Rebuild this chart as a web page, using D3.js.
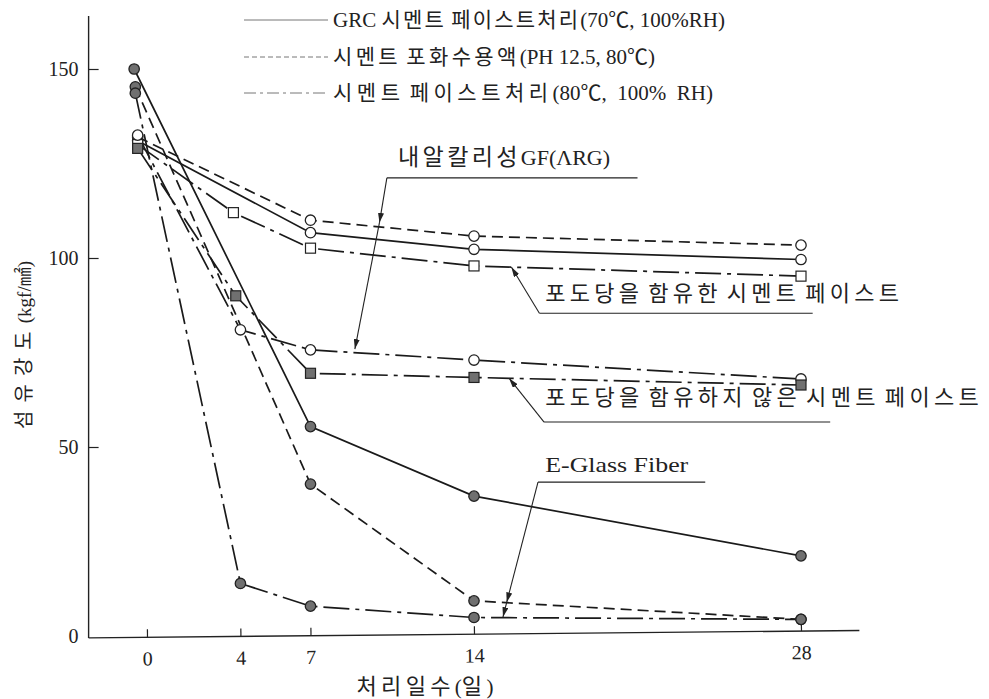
<!DOCTYPE html>
<html>
<head>
<meta charset="utf-8">
<script src="https://cdn.jsdelivr.net/npm/d3@7"></script>
<style>
    body { margin: 0; background: #fff; }
    text { font-family: 'Liberation Serif', 'Noto Sans CJK KR', serif; fill: #222; }
</style>
</head>
<body>
<svg id="chart" width="989" height="699"></svg>
<script>
// ---- data (days of treatment, fibre strength kgf/mm2) ----
const xTicks = [0, 4, 7, 14, 28]
const yTicks = [0, 50, 100, 150]

// AR glass fibre
const argSatDays = [-0.4, 7, 14, 28]
const argSatVals = [132, 110, 105.8, 103.4]
const argGrcDays = [-0.4, 7, 14, 28]
const argGrcVals = [131, 106.7, 102.3, 99.6]
const argPasteDays = [-0.4, 4, 7, 14, 28]
const argPasteVals = [132.5, 81, 75.7, 73, 68]
// cement paste with / without glucose
const glucoseDays = [-0.4, 3.7, 7, 14, 28]
const glucoseVals = [130, 112, 102.6, 97.9, 95.2]
const noGlucoseDays = [-0.4, 3.8, 7, 14, 28]
const noGlucoseVals = [129, 90, 69.5, 68.4, 66.4]
// E-glass fibre
const egGrcDays = [-0.55, 7, 14, 28]
const egGrcVals = [150, 55.4, 37, 21.2]
const egSatDays = [-0.5, 7, 14, 28]
const egSatVals = [145.3, 40.2, 9.3, 4.4]
const egPasteDays = [-0.5, 4, 7, 14, 28]
const egPasteVals = [143.6, 13.9, 7.9, 4.9, 4.4]

const legendLabels = [
    "GRC 시멘트 페이스트처리(70℃, 100%RH)",
    "시멘트 포화수용액(PH 12.5, 80℃)",
    "시멘트 페이스트처리(80℃,  100%  RH)"
]

const dashes = {solid: null, dashed: "11,6", dashdot: "26,6,4,6"}

const series = [
    {days: argSatDays, vals: argSatVals, line: "dashed", mark: "circleOpen"},
    {days: argGrcDays, vals: argGrcVals, line: "solid", mark: "circleOpen"},
    {days: glucoseDays, vals: glucoseVals, line: "dashdot", mark: "squareOpen"},
    {days: argPasteDays, vals: argPasteVals, line: "dashdot", mark: "circleOpen"},
    {days: noGlucoseDays, vals: noGlucoseVals, line: "dashdot", mark: "squareFilled"},
    {days: egGrcDays, vals: egGrcVals, line: "solid", mark: "circleFilled"},
    {days: egSatDays, vals: egSatVals, line: "dashed", mark: "circleFilled"},
    {days: egPasteDays, vals: egPasteVals, line: "dashdot", mark: "circleFilled"}
]

// annotations, in data units: elbow of the leader, optional middle arrow, tip
const annotations = [
    {label: "내알칼리성GF(ΛRG)", elbow: [10.27, 121.2], lineTo: 21, text: [10.75, 124.6], len: 212, mid: [9.95, 109.3], tip: [8.9, 75.9]},
    {label: "포도당을 함유한 시멘트 페이스트", elbow: [16.8, 85.4], lineTo: 28.5, text: [17.05, 88.6], len: 358, mid: null, tip: [15.6, 97.6]},
    {label: "포도당을 함유하지 않은 시멘트 페이스트", elbow: [17.0, 56.6], lineTo: 29.25, text: [17.05, 61], len: 438, mid: null, tip: [15.5, 68.2]},
    {label: "E-Glass Fiber", elbow: [16.74, 40.7], lineTo: 23.9, text: [17.05, 43.4], len: 143, mid: [15.4, 8.9], tip: [15.24, 5.0]}
]

const svg = d3.select("#chart")

const x = d3.scaleLinear().domain([0, 28]).range([147, 801])
const y = d3.scaleLinear().domain([0, 150]).range([636, 69])
const axisX = x(-2.5)

// hangul runs get the extra spacing, so the latin part keeps its natural look
const HANGUL = /[\uAC00-\uD7A3]/
function fitText(sel, str, target, size, ratio = 1.1) {
    sel.attr("font-size", size)
    str.match(/[\uAC00-\uD7A3]+|[^\uAC00-\uD7A3]+/g).forEach(run => {
        const ts = sel.append("tspan").text(run)
        if (HANGUL.test(run)) ts.classed("hangul", true).attr("font-size", size * ratio)
    })
    const natural = sel.node().getComputedTextLength()
    const n = str.split("").filter(c => HANGUL.test(c)).length
    const ls = Math.max(0, (target - natural) / n)
    sel.selectAll("tspan.hangul").attr("letter-spacing", ls)
    return sel
}

const defs = svg.append("defs")
defs.append("marker")
    .attr("id", "arrow")
    .attr("viewBox", "0 0 10 6")
    .attr("refX", 10).attr("refY", 3)
    .attr("markerWidth", 10).attr("markerHeight", 6)
    .attr("markerUnits", "userSpaceOnUse")
    .attr("orient", "auto")
    .append("path")
    .attr("d", "M0,0 L10,3 L0,6 Z")
    .attr("fill", "#222")

// axes (the scanned x axis leans up slightly to the right)
const tilt = -0.55
svg.append("line")
    .attr("x1", axisX).attr("x2", axisX)
    .attr("y1", y(-0.5)).attr("y2", y(164))
    .attr("stroke", "#222").attr("stroke-width", 1.4)

const gx = svg.append("g")
    .attr("transform", `translate(0,${y(-0.5)}) rotate(${tilt} ${axisX} 0)`)
gx.append("line")
    .attr("x1", axisX).attr("x2", x(30.5))
    .attr("stroke", "#222").attr("stroke-width", 1.4)
gx.call(d3.axisBottom(x).tickValues(xTicks).tickSize(-8).tickPadding(14))
gx.select(".domain").remove()
gx.selectAll(".tick line").attr("stroke", "#222").attr("stroke-width", 1.2)
gx.selectAll("text").attr("font-size", 20).attr("font-family", "'Liberation Serif', serif").attr("fill", "#222")

const gy = svg.append("g")
    .attr("transform", `translate(${axisX},0)`)
    .call(d3.axisLeft(y).tickValues(yTicks).tickSize(-10).tickPadding(10))
gy.select(".domain").remove()
gy.selectAll("line").attr("stroke", "#222").attr("stroke-width", 1.2)
gy.selectAll("text").attr("font-size", 20).attr("font-family", "'Liberation Serif', serif").attr("fill", "#222")
gy.selectAll(".tick").filter(d => d === 0).select("line").remove()

// axis titles
fitText(svg.append("text")
    .attr("transform", `translate(24,${y(77)}) rotate(-90)`)
    .attr("text-anchor", "middle")
    .attr("dy", "0.35em"), "섬유강도(kgf/㎟)", 168, 19, 1.05)
fitText(svg.append("text")
    .attr("x", x(11.9)).attr("y", 694)
    .attr("text-anchor", "middle"), "처리일수(일)", 137, 21, 1.05)

// series lines
const line = d3.line().x(d => x(d[0])).y(d => y(d[1]))
series.forEach(s => {
    const pts = s.days.map((d, i) => [d, s.vals[i]])
    svg.append("path")
        .datum(pts)
        .attr("d", line)
        .attr("fill", "none")
        .attr("stroke", "#1a1a1a")
        .attr("stroke-width", 1.7)
        .attr("stroke-dasharray", dashes[s.line])
})

// markers
series.forEach(s => {
    const pts = s.days.map((d, i) => [d, s.vals[i]])
    const g = svg.append("g")
    if (s.mark.startsWith("circle")) {
        g.selectAll("circle").data(pts).enter().append("circle")
            .attr("cx", d => x(d[0])).attr("cy", d => y(d[1]))
            .attr("r", 5.2)
            .attr("fill", s.mark === "circleFilled" ? "#707070" : "#fff")
            .attr("stroke", "#222").attr("stroke-width", 1.3)
    } else {
        g.selectAll("rect").data(pts).enter().append("rect")
            .attr("x", d => x(d[0]) - 5).attr("y", d => y(d[1]) - 5)
            .attr("width", 10).attr("height", 10)
            .attr("fill", s.mark === "squareFilled" ? "#707070" : "#fff")
            .attr("stroke", "#222").attr("stroke-width", 1.2)
    }
})

// legend
const legendRows = [20, 57, 93]
const legendLens = [392, 322, 380]
legendLabels.forEach((lab, i) => {
    svg.append("line")
        .attr("x1", 244).attr("x2", 328)
        .attr("y1", legendRows[i]).attr("y2", legendRows[i])
        .attr("stroke", "#777").attr("stroke-width", 1)
        .attr("stroke-dasharray", i === 0 ? null : (i === 1 ? "5,3" : "12,4,3,4"))
    fitText(svg.append("text")
        .attr("x", 333).attr("y", legendRows[i])
        .attr("dy", "0.35em")
        .attr("xml:space", "preserve"), lab, legendLens[i], 21, 1.0)
})

// annotations
annotations.forEach(a => {
    svg.append("line")
        .attr("x1", x(a.elbow[0])).attr("x2", x(a.lineTo))
        .attr("y1", y(a.elbow[1])).attr("y2", y(a.elbow[1]))
        .attr("stroke", "#222").attr("stroke-width", 1.1)
    const legs = a.mid ? [[a.elbow, a.mid], [a.mid, a.tip]] : [[a.elbow, a.tip]]
    legs.forEach(([p, q]) => {
        svg.append("line")
            .attr("x1", x(p[0])).attr("y1", y(p[1]))
            .attr("x2", x(q[0])).attr("y2", y(q[1]))
            .attr("stroke", "#222").attr("stroke-width", 1.1)
            .attr("marker-end", "url(#arrow)")
    })
    const t = svg.append("text")
        .attr("x", x(a.text[0])).attr("y", y(a.text[1]))
    if (a.label.startsWith("내")) {
        fitText(t, a.label, a.len, 22, 1.05)
    } else if (HANGUL.test(a.label)) {
        fitText(t, a.label, a.len, 20)
    } else {
        t.attr("font-size", 22)
            .attr("textLength", a.len).attr("lengthAdjust", "spacingAndGlyphs").text(a.label)
    }
})
</script>
</body>
</html>
